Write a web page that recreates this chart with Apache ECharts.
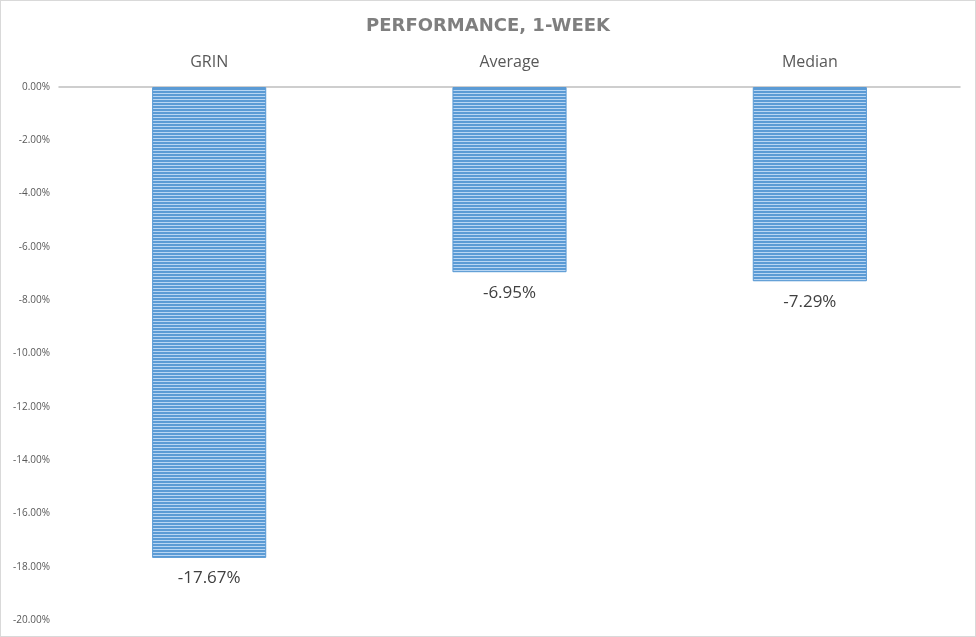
<!DOCTYPE html>
<html>
<head>
<meta charset="utf-8">
<script src="https://cdn.jsdelivr.net/npm/echarts@6/dist/echarts.min.js"></script>
<style>
  html, body { margin: 0; padding: 0; background: #fff; }
  #chart { width: 976px; height: 637px; box-sizing: border-box; border: 1px solid #d9d9d9; }
</style>
</head>
<body>
<div id="chart"></div>
<script>
const categories = ['GRIN', 'Average', 'Median'];
const values = [-17.67, -6.95, -7.29];

// striped fill like the original bars
const stripe = document.createElement('canvas');
stripe.width = 4;
stripe.height = 3;
const ctx = stripe.getContext('2d');
ctx.fillStyle = '#5b9bd5';
ctx.fillRect(0, 0, 4, 2);
ctx.fillStyle = '#b9d6f3';
ctx.fillRect(0, 2, 4, 1);

const chart = echarts.init(document.getElementById('chart'));
chart.setOption({
  animation: false,
  title: {
    text: 'PERFORMANCE, 1-WEEK',
    left: 'center',
    top: 11,
    textStyle: { fontFamily: 'DejaVu Sans', fontSize: 18, fontWeight: 'bold', color: '#7f7f7f' }
  },
  grid: { left: 58, right: 15, top: 86, bottom: 16 },
  xAxis: {
    type: 'category',
    position: 'top',
    data: categories,
    axisLine: { lineStyle: { color: '#bfbfbf', width: 1.5 } },
    axisTick: { show: false },
    axisLabel: { fontFamily: 'Open Sans', fontSize: 16, color: '#595959', margin: 17 }
  },
  yAxis: {
    type: 'value',
    min: -20,
    max: 0,
    interval: 2,
    axisLine: { show: false },
    axisTick: { show: false },
    splitLine: { show: false },
    axisLabel: {
      fontFamily: 'Open Sans', fontSize: 10, color: '#595959', margin: 9,
      formatter: v => v.toFixed(2) + '%'
    }
  },
  series: [{
    type: 'bar',
    data: values,
    barWidth: '38%',
    itemStyle: {
      color: { image: stripe, repeat: 'repeat' },
      borderColor: '#5b9bd5',
      borderWidth: 1
    },
    label: {
      show: true,
      position: 'bottom',
      distance: 12,
      fontFamily: 'Open Sans',
      fontSize: 17,
      color: '#404040',
      formatter: p => p.value.toFixed(2) + '%'
    }
  }]
});
</script>
</body>
</html>
